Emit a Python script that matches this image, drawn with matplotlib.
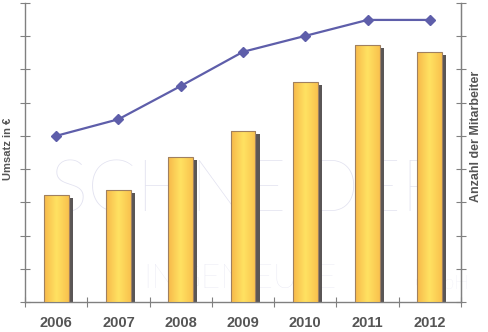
import numpy as np
import matplotlib.pyplot as plt
from matplotlib.colors import LinearSegmentedColormap

years = ["2006", "2007", "2008", "2009", "2010", "2011", "2012"]
umsatz = [3.22, 3.37, 4.37, 5.15, 6.63, 7.74, 7.51]
mitarbeiter = [5.0, 5.5, 6.5, 7.53, 8.01, 8.49, 8.49]

plt.rcParams["font.family"] = ["Liberation Sans", "DejaVu Sans"]

fig = plt.figure(figsize=(4.88, 3.32), dpi=100)
ax = fig.add_axes([0.0512, 0.0904, 0.8935, 0.9006])

x = np.arange(len(years))
w = 0.40

# watermark
wm = "#e2e2f0"
ax.text(3.05, 3.3, "SCHNEIDER", color=wm, fontsize=52, fontweight="light",
        family=["Lato", "DejaVu Sans"], ha="center", va="center", zorder=0)
ax.text(2.95, 0.7, "INGENIEURE", color=wm, fontsize=24, fontweight="light",
        family=["Lato", "DejaVu Sans"], ha="center", va="center", zorder=0)
ax.text(6.2, 0.55, "GmbH", color=wm, fontsize=14, fontweight="light",
        family=["Lato", "DejaVu Sans"], ha="center", va="center", zorder=0)

# bars: shadow + gradient fill
cmap = LinearSegmentedColormap.from_list("gold", ["#f7b94a", "#ffe262", "#f9c24e"])
grad = np.linspace(0, 1, 64).reshape(1, -1)
ax.bar(x + 0.065, np.array(umsatz) - 0.09, width=w, color="#5a5656",
       zorder=2, linewidth=0)
bars = ax.bar(x, umsatz, width=w, color="none", edgecolor="#a08060",
              linewidth=0.8, zorder=4)
for b in bars:
    im = ax.imshow(grad, cmap=cmap, aspect="auto", zorder=3,
                   extent=[b.get_x(), b.get_x() + b.get_width(), 0, b.get_height()])
    im.set_clip_path(b)
ax.set_xlim(-0.5, len(years) - 0.5)
ax.set_ylim(0, 9)

# axes styling
gray = "#808080"
for s in ["left", "bottom", "right"]:
    ax.spines[s].set_color(gray)
    ax.spines[s].set_linewidth(1.0)
ax.spines["top"].set_visible(False)
ax.set_yticks(np.arange(0, 10))
ax.set_yticklabels([])
ax.set_xticks(np.arange(-0.5, len(years) - 0.4, 1))
ax.set_xticklabels([])
ax.set_xticks(x, minor=True)
ax.set_xticklabels(years, minor=True, fontsize=10.5, fontweight="bold", color="#555555")
ax.tick_params(axis="x", which="major", direction="inout", length=7, color=gray)
ax.tick_params(axis="x", which="minor", length=0, pad=10)
ax.tick_params(axis="y", direction="inout", length=7, color=gray)

ax2 = ax.twinx()
ax2.set_ylim(0, 9)
ax2.plot(x, mitarbeiter, color="#5e5eaa", linewidth=1.6, marker="D",
         markersize=5, zorder=5)
for s in ["left", "bottom", "top"]:
    ax2.spines[s].set_visible(False)
ax2.spines["right"].set_color(gray)
ax2.set_yticks(np.arange(0, 10))
ax2.set_yticklabels([])
ax2.tick_params(axis="y", direction="inout", length=7, color=gray)

fig.text(8 / 488, 1 - 149 / 332, "Umsatz in €", rotation=90, fontsize=8,
         fontweight="bold", color="#555555", ha="center", va="center")
fig.text(476 / 488, 1 - 136 / 332, "Anzahl der Mitarbeiter", rotation=90,
         fontsize=9, fontweight="bold", color="#555555", ha="center", va="center")

fig.savefig("out.png", dpi=100)
